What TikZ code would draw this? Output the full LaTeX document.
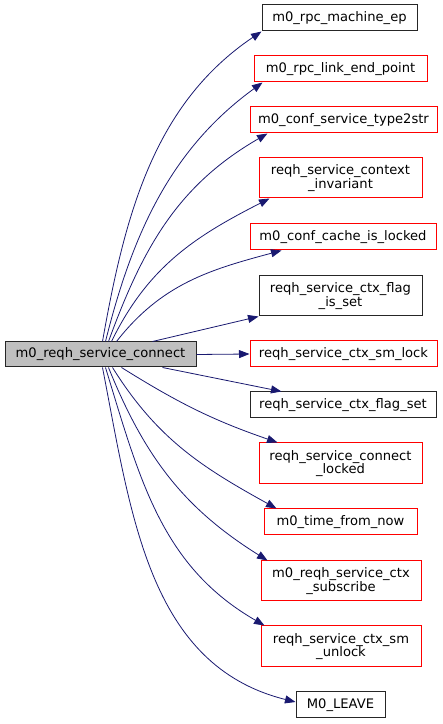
\documentclass[tikz,border=0pt]{standalone}
\usepackage{fontspec}
\setmainfont{DejaVu Sans}
\usepackage{xcolor}
\usetikzlibrary{arrows.meta}
\definecolor{edgeblue}{RGB}{25,25,112}
\definecolor{callergray}{RGB}{191,191,191}

\begin{document}
\begin{tikzpicture}[x=1pt, y=1pt, >={Triangle[length=10.5pt,width=8pt]},
  font=\fontsize{13.1}{13.5}\selectfont,
  fn/.style={draw=black!85, fill=white, align=center, inner sep=0pt, line width=1pt, minimum height=26pt},
  fnred/.style={fn, draw=red},
  edge/.style={->, draw=edgeblue, line width=0.8pt}]
  \useasboundingbox (0,0) rectangle (443,724);
  % caller
  \node[fn, fill=callergray, minimum width=191pt, minimum height=25pt] (main) at (100.5,369.5) {m0\_reqh\_service\_connect};
  % callees
  \node[fn, minimum width=155pt] (machep) at (339.5,706) {m0\_rpc\_machine\_ep};
  \node[fnred, minimum width=173pt] (linkep) at (340.5,655) {m0\_rpc\_link\_end\_point};
  \node[fnred, minimum width=187pt] (type2str) at (343.5,604) {m0\_conf\_service\_type2str};
  \node[fnred, minimum width=163pt, minimum height=40pt] (ctxinv) at (340.5,546) {reqh\_service\_context\\\_invariant};
  \node[fnred, minimum width=186pt] (cachelk) at (343,487) {m0\_conf\_cache\_is\_locked};
  \node[fn, minimum width=163pt, minimum height=40pt] (flagisset) at (340.5,428) {reqh\_service\_ctx\_flag\\\_is\_set};
  \node[fnred, minimum width=187pt] (smlock) at (343.5,370) {reqh\_service\_ctx\_sm\_lock};
  \node[fn, minimum width=186pt] (flagset) at (343,319) {reqh\_service\_ctx\_flag\_set};
  \node[fnred, minimum width=163pt, minimum height=41pt] (connlk) at (340.5,260.5) {reqh\_service\_connect\\\_locked};
  \node[fnred, minimum width=153pt] (timenow) at (340.5,202) {m0\_time\_from\_now};
  \node[fnred, minimum width=160pt, minimum height=40pt] (subscr) at (341,143) {m0\_reqh\_service\_ctx\\\_subscribe};
  \node[fnred, minimum width=160pt, minimum height=41pt] (smunlock) at (341,77.5) {reqh\_service\_ctx\_sm\\\_unlock};
  \node[fn, minimum width=89pt] (leave) at (340.5,19) {M0\_LEAVE};
  % calls going up
  \draw[edge] ([xshift=98pt]main.north west) to[out=80, in=214, looseness=0.95] (machep.south west);
  \draw[edge] ([xshift=101pt]main.north west) to[out=76, in=216, looseness=0.95] ([xshift=9pt]linkep.south west);
  \draw[edge] ([xshift=104pt]main.north west) to[out=70, in=210] ([xshift=18pt]type2str.south west);
  \draw[edge] ([xshift=107pt]main.north west) to[out=64, in=207] ([xshift=11pt]ctxinv.south west);
  \draw[edge] ([xshift=112pt]main.north west) to[out=52, in=195] ([xshift=32pt]cachelk.south west);
  \draw[edge] ([xshift=148pt]main.north west) -- (flagisset.south west);
  \draw[edge] (main.east) -- (smlock.west);
  % calls going down
  \draw[edge] ([xshift=158pt]main.south west) -- ([xshift=32pt]flagset.north west);
  \draw[edge] ([xshift=117pt]main.south west) to[out=-32, in=161] ([xshift=19pt]connlk.north west);
  \draw[edge] ([xshift=108pt]main.south west) to[out=-58, in=151] ([xshift=13pt]timenow.north west);
  \draw[edge] ([xshift=104pt]main.south west) to[out=-68, in=148] ([xshift=7pt]subscr.north west);
  \draw[edge] ([xshift=101pt]main.south west) to[out=-73, in=150] ([xshift=4pt]smunlock.north west);
  \draw[edge] ([xshift=98pt]main.south west) to[out=-79, in=166] ([yshift=3pt]leave.west);
\end{tikzpicture}
\end{document}
